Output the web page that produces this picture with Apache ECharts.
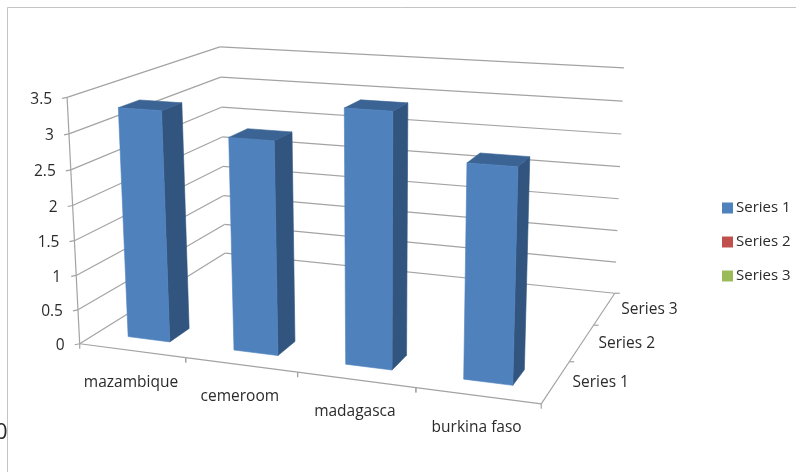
<!DOCTYPE html>
<html>
<head>
<meta charset="utf-8">
<style>html,body{margin:0;padding:0;background:#fff}#chart{width:796px;height:472px}</style>
<script src="https://cdn.jsdelivr.net/npm/echarts@6/dist/echarts.min.js"></script>
</head>
<body>
<div id="chart"></div>
<script>
// Chart content
const categories = ['mazambique', 'cemeroom', 'madagasca', 'burkina faso'];
const depthNames = ['Series 1', 'Series 2', 'Series 3'];
const valueTicks = [0, 0.5, 1, 1.5, 2, 2.5, 3, 3.5];
const series1 = [3.3, 3, 3.5, 2.9];
const series2 = [];
const series3 = [];

// Colours
const FRONT = ['#4f81bd', '#c0504d', '#9bbb59'];
const SIDE = ['#31557f', '#7d3432', '#657a3a'];
const TOP = ['#3b6494', '#964240', '#7a9346'];
const LINE = '#a3a3a3';
const INK = '#2b2b2b';
const FONT = '15.5px "Open Sans", sans-serif';

// Camera: fits a projective matrix to the corners of the plot box, given as
// [category fraction, depth fraction, value fraction] -> screen position.
const boxCorners = [
  [0, 0, 0, 80, 344], [1, 0, 0, 541, 404], [1, 1, 0, 615, 293], [0, 1, 0, 225, 253],
  [0, 0, 1, 67, 97], [1, 1, 1, 624, 68], [0, 1, 1, 220, 47]
];
function fitCamera(points) {
  const n = 11;
  const A = Array.from({length: n}, () => new Array(n + 1).fill(0));
  const addRow = (row, rhs) => {
    for (let i = 0; i < n; i++) {
      for (let j = 0; j < n; j++) A[i][j] += row[i] * row[j];
      A[i][n] += row[i] * rhs;
    }
  };
  points.forEach(([u, v, w, x, y]) => {
    addRow([u, v, w, 1, 0, 0, 0, 0, -x * u, -x * v, -x * w], x);
    addRow([0, 0, 0, 0, u, v, w, 1, -y * u, -y * v, -y * w], y);
  });
  for (let c = 0; c < n; c++) {
    let best = c;
    for (let r = c + 1; r < n; r++) if (Math.abs(A[r][c]) > Math.abs(A[best][c])) best = r;
    [A[c], A[best]] = [A[best], A[c]];
    for (let r = 0; r < n; r++) {
      if (r === c) continue;
      const f = A[r][c] / A[c][c];
      for (let k = c; k <= n; k++) A[r][k] -= f * A[c][k];
    }
  }
  return A.map((row, i) => row[n] / row[i]);
}
const cam = fitCamera(boxCorners);
function project(u, v, w) {
  const d = cam[8] * u + cam[9] * v + cam[10] * w + 1;
  return [
    (cam[0] * u + cam[1] * v + cam[2] * w + cam[3]) / d,
    (cam[4] * u + cam[5] * v + cam[6] * w + cam[7]) / d
  ];
}

// Reads a position through the hidden axes, then places it in the 3D box.
function place(params, api, cat, depth, value) {
  const rect = params.coordSys;
  const p = api.coord([cat, value]);
  return project((p[0] - rect.x) / rect.width, depth / depthNames.length, 1 - (p[1] - rect.y) / rect.height);
}
const seg = (a, b, color) => ({
  type: 'line',
  shape: {x1: a[0], y1: a[1], x2: b[0], y2: b[1]},
  style: {stroke: color || LINE, lineWidth: 1.2}
});
const label = (text, x, y, align) => ({
  type: 'text',
  style: {text, x, y, align: align || 'center', verticalAlign: 'middle', fill: INK, font: FONT}
});

const BAR_HALF_WIDTH = 0.2;
const BAR_HALF_DEPTH = 0.19;

function barSeries(index, name, values) {
  return {
    name,
    type: 'custom',
    coordinateSystem: 'cartesian2d',
    itemStyle: {color: FRONT[index]},
    clip: false,
    silent: true,
    animation: false,
    data: values.map((v, i) => [i, v]),
    renderItem(params, api) {
      const c = api.value(0) + 0.5, h = api.value(1);
      const d = index + 0.5;
      const x0 = c - BAR_HALF_WIDTH, x1 = c + BAR_HALF_WIDTH;
      const d0 = d - BAR_HALF_DEPTH, d1 = d + BAR_HALF_DEPTH;
      const P = (x, dp, val) => place(params, api, x, dp, val);
      const poly = (pts, fill) => ({
        type: 'polygon',
        shape: {points: pts},
        style: {fill, stroke: fill, lineWidth: 0.6}
      });
      return {
        type: 'group',
        children: [
          poly([P(x1, d0, 0), P(x1, d1, 0), P(x1, d1, h), P(x1, d0, h)], SIDE[index]),
          poly([P(x0, d0, h), P(x1, d0, h), P(x1, d1, h), P(x0, d1, h)], TOP[index]),
          poly([P(x0, d0, 0), P(x1, d0, 0), P(x1, d0, h), P(x0, d0, h)], FRONT[index])
        ]
      };
    }
  };
}

// Wall grid lines plus the value axis with its ticks and labels.
const wallSeries = {
  type: 'custom',
  coordinateSystem: 'cartesian2d',
  clip: false,
  silent: true,
  animation: false,
  data: valueTicks.map(v => [0, v]),
  renderItem(params, api) {
    const v = api.value(1), n = categories.length, m = depthNames.length;
    const front = place(params, api, 0, 0, v);
    const corner = place(params, api, 0, m, v);
    const right = place(params, api, n, m, v);
    const kids = [seg(front, corner), seg(corner, right)];
    kids.push(seg(front, [front[0] - 5, front[1] + 1]));
    kids.push(label(String(v), front[0] - 15, front[1] + 2, 'right'));
    if (v === valueTicks[valueTicks.length - 1]) kids.push(seg(front, place(params, api, 0, 0, 0)));
    return {type: 'group', children: kids};
  }
};

// Category axis along the front edge of the floor.
const categorySeries = {
  type: 'custom',
  coordinateSystem: 'cartesian2d',
  clip: false,
  silent: true,
  animation: false,
  data: categories.map((c, i) => [i, 0, c]),
  renderItem(params, api) {
    const i = api.value(0);
    const a = place(params, api, i, 0, 0), b = place(params, api, i + 1, 0, 0);
    const mid = place(params, api, i + 0.5, 0, 0);
    const kids = [seg(a, b), seg(b, [b[0], b[1] + 5]), seg(a, [a[0], a[1] + 5])];
    kids.push(label(categories[i], mid[0] - 1, mid[1] + 31.5));
    return {type: 'group', children: kids};
  }
};

// Depth axis along the right edge of the floor.
const depthSeries = {
  type: 'custom',
  coordinateSystem: 'cartesian2d',
  clip: false,
  silent: true,
  animation: false,
  data: depthNames.map((c, i) => [i, 0]),
  renderItem(params, api) {
    const i = api.value(0), n = categories.length;
    const a = place(params, api, n, i, 0), b = place(params, api, n, i + 1, 0);
    const mid = place(params, api, n, i + 0.5, 0);
    const kids = [seg(a, b), seg(b, [b[0] + 5, b[1]])];
    kids.push(label(depthNames[i], mid[0] + 45, mid[1] + 1));
    return {type: 'group', children: kids};
  }
};

const chart = echarts.init(document.getElementById('chart'));
chart.setOption({
  animation: false,
  backgroundColor: '#fff',
  grid: {left: 0, right: 0, top: 0, bottom: 0},
  xAxis: {type: 'value', min: 0, max: categories.length, show: false},
  yAxis: {type: 'value', min: 0, max: valueTicks[valueTicks.length - 1], show: false},
  legend: {
    data: depthNames,
    orient: 'vertical',
    left: 722,
    top: 199,
    padding: 0,
    icon: 'rect',
    itemWidth: 11,
    itemHeight: 11,
    itemGap: 16,
    selectedMode: false,
    textStyle: {fontFamily: '"Open Sans", sans-serif', fontSize: 15, lineHeight: 18, color: INK, padding: [0, 0, 0, -2]}
  },
  graphic: [
    {type: 'line', shape: {x1: 7.5, y1: 7.5, x2: 796, y2: 7.5}, style: {stroke: '#c4c4c4', lineWidth: 1}, silent: true},
    {type: 'line', shape: {x1: 7.5, y1: 7.5, x2: 7.5, y2: 472}, style: {stroke: '#c4c4c4', lineWidth: 1}, silent: true},
    {type: 'text', left: -5, top: 422, style: {text: '0', fill: INK, font: '22px "Open Sans", sans-serif'}, silent: true}
  ],
  series: [
    wallSeries,
    categorySeries,
    depthSeries,
    barSeries(0, depthNames[0], series1),
    barSeries(1, depthNames[1], series2),
    barSeries(2, depthNames[2], series3)
  ]
});
</script>
</body>
</html>
